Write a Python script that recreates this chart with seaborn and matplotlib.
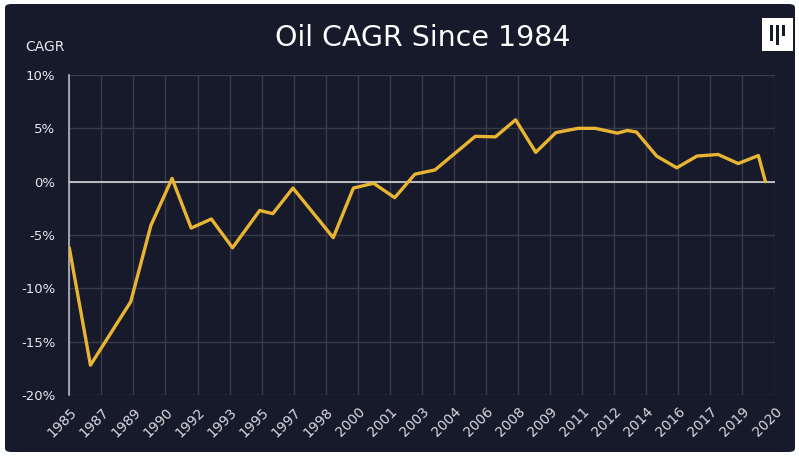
import numpy as np
import pandas as pd
import seaborn as sns
import matplotlib.pyplot as plt
from matplotlib.patches import FancyBboxPatch, Rectangle

# data (fractional year, CAGR in %)
years = [1985.0, 1986.05, 1988.05, 1989.05, 1990.1, 1991.05, 1992.05, 1993.1,
         1994.45, 1995.1, 1996.1, 1998.1, 1999.1, 2000.1, 2001.15, 2002.15,
         2003.15, 2005.15, 2006.15, 2007.15, 2008.15, 2009.15, 2010.25, 2011.1,
         2012.2, 2012.7, 2013.15, 2014.15, 2015.15, 2016.15, 2017.2, 2018.2,
         2019.2, 2019.55]
cagr = [-6.2, -17.2, -11.25, -4.1, 0.3, -4.35, -3.5, -6.2,
        -2.7, -3.0, -0.6, -5.25, -0.6, -0.15, -1.5, 0.7,
        1.1, 4.25, 4.2, 5.8, 2.75, 4.6, 5.0, 5.0,
        4.55, 4.8, 4.65, 2.4, 1.3, 2.4, 2.55, 1.7,
        2.45, 0.0]

tick_labels = ['1985', '1987', '1989', '1990', '1992', '1993', '1995', '1997',
               '1998', '2000', '2001', '2003', '2004', '2006', '2008', '2009',
               '2011', '2012', '2014', '2016', '2017', '2019', '2020']
y_ticks = [-20, -15, -10, -5, 0, 5, 10]

df = pd.DataFrame({'year': years, 'cagr': cagr})

bg = '#161a2b'
sns.set_style('dark')
plt.rcParams['font.family'] = ['DejaVu Sans']

fig = plt.figure(figsize=(7.99, 4.57), dpi=100, facecolor='white')
# dark card behind everything
card = FancyBboxPatch((5 / 799, 5 / 457), 790 / 799, 448 / 457,
                      boxstyle='round,pad=0,rounding_size=0.008',
                      transform=fig.transFigure, facecolor=bg,
                      edgecolor='none', zorder=-10)
fig.patches.append(card)

ax = fig.add_axes([69.3 / 799, 62 / 457, 705.2 / 799, 320 / 457])
ax.set_facecolor(bg)

sns.lineplot(data=df, x='year', y='cagr', ax=ax, color='#e8b432',
             linewidth=2.4, zorder=5)

ax.axhline(0, color='#c8c8d0', linewidth=1.3, zorder=4)

ax.set_xlim(1985, 2020)
ax.set_ylim(-20, 10)
xt = np.linspace(1985, 2020, len(tick_labels))
ax.set_xticks(xt)
ax.set_xticklabels(tick_labels, rotation=45, ha='right',
                   rotation_mode='anchor', fontsize=10, color='#d8d8de')
ax.set_yticks(y_ticks)
ax.set_yticklabels([f'{v}%' for v in y_ticks], fontsize=9.5, color='#e8e8ee')
ax.tick_params(axis='both', length=0, pad=10)
ax.tick_params(axis='x', pad=7)

ax.grid(True, color='#3a3b47', linewidth=1)
for s in ['top', 'right', 'bottom']:
    ax.spines[s].set_visible(False)
ax.spines['left'].set_visible(True)
ax.spines['left'].set_color('#b8b8c4')
ax.spines['left'].set_linewidth(1.2)
ax.set_xlabel('')
ax.set_ylabel('')

fig.text(423 / 799, 1 - 38 / 457, 'Oil CAGR Since 1984', ha='center',
         va='center', fontsize=20.5, color='white')
fig.text(45 / 799, 1 - 47 / 457, 'CAGR', ha='center', va='center',
         fontsize=10, color='#e8e8ee')

# logo
fig.patches.append(Rectangle((762 / 799, 1 - 51 / 457), 31 / 799, 33 / 457,
                             transform=fig.transFigure, facecolor='white',
                             edgecolor='none', zorder=3))
for bx, by, bh in [(770, 25, 16), (776, 25, 20), (782, 25, 11)]:
    fig.patches.append(Rectangle((bx / 799, 1 - (by + bh) / 457), 3 / 799,
                                 bh / 457, transform=fig.transFigure,
                                 facecolor='#161a2b', edgecolor='none',
                                 zorder=4))

fig.savefig('out.png', dpi=100, facecolor=fig.get_facecolor())
